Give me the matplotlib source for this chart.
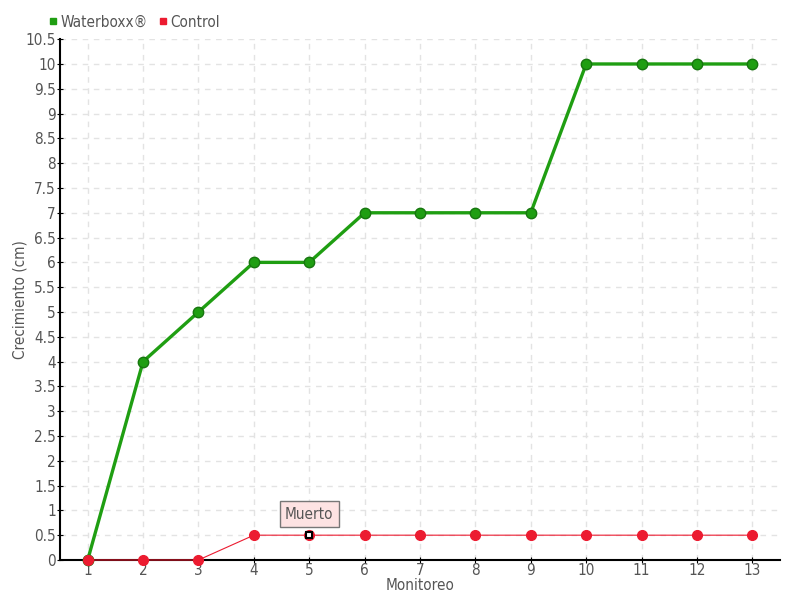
import matplotlib
matplotlib.use("Agg")
import matplotlib.pyplot as plt
from matplotlib.lines import Line2D

# datos
monitoreo = [1, 2, 3, 4, 5, 6, 7, 8, 9, 10, 11, 12, 13]
waterboxx = [0, 4, 5, 6, 6, 7, 7, 7, 7, 10, 10, 10, 10]
control = [0, 0, 0, 0.5, 0.5, 0.5, 0.5, 0.5, 0.5, 0.5, 0.5, 0.5, 0.5]
yticks = [0, 0.5, 1, 1.5, 2, 2.5, 3, 3.5, 4, 4.5, 5, 5.5, 6, 6.5, 7, 7.5, 8, 8.5, 9, 9.5, 10, 10.5]

verde = "#1f9e12"
rojo = "#ec1b30"
gris = "#555555"

plt.rcParams['font.family'] = ['DejaVu Sans']
plt.rcParams['font.stretch'] = 'condensed'

fig = plt.figure(figsize=(8, 6), dpi=100)
ax = fig.add_axes([0.075, 0.0667, 0.9, 0.868])

ax.plot(monitoreo, waterboxx, color=verde, linewidth=2.4, marker='o', markersize=7.5,
        markerfacecolor=verde, markeredgecolor="#17760f", markeredgewidth=1, zorder=4,
        clip_on=False)
ax.plot(monitoreo, control, color=rojo, linewidth=0.8, marker='o', markersize=7,
        markerfacecolor=rojo, markeredgecolor=rojo, zorder=5, clip_on=False)

# punto "Muerto"
ax.plot(monitoreo[4], control[4], marker='s', markersize=5, markerfacecolor='white',
        markeredgecolor='black', markeredgewidth=1.5, zorder=6)
ax.annotate("Muerto", xy=(monitoreo[4], control[4]), xytext=(0, 15), textcoords='offset points',
            ha='center', va='center', fontsize=11, color=gris,
            bbox=dict(boxstyle='square,pad=0.35', fc='#fde3e3', ec='#777777', lw=1),
            zorder=7)

ax.set_xlim(0.5, 13.5)
ax.set_ylim(0, 10.5)
ax.set_xticks(monitoreo)
ax.set_yticks(yticks)
ax.set_yticklabels([("%g" % v) for v in yticks])
ax.tick_params(axis='both', labelsize=11, colors='black', labelcolor=gris, length=4)
ax.tick_params(axis='x', direction='inout', pad=0)
ax.tick_params(axis='y', direction='inout', pad=1)

ax.grid(True, color='#e3e3e3', linestyle=(0, (4, 4)), linewidth=1)
ax.set_axisbelow(True)
for s in ['top', 'right']:
    ax.spines[s].set_visible(False)
ax.spines['left'].set_linewidth(1.5)
ax.spines['bottom'].set_linewidth(1.5)

ax.set_xlabel("Monitoreo", fontsize=11, color=gris, labelpad=0)
ax.set_ylabel("Crecimiento (cm)", fontsize=11, color=gris)
ax.yaxis.set_label_coords(-0.045, 0.5)

handles = [Line2D([], [], linestyle='none', marker='s', markersize=5, color=verde),
           Line2D([], [], linestyle='none', marker='s', markersize=5, color=rojo)]
leg = fig.legend(handles, ["Waterboxx®", "Control"], loc='center left', bbox_to_anchor=(0.058, 0.963),
                 ncol=2, frameon=False, fontsize=11, handletextpad=0.1, columnspacing=0.6,
                 handlelength=0.8, borderaxespad=0, borderpad=0)
for t in leg.get_texts():
    t.set_color(gris)

fig.savefig("out.png", dpi=100)
